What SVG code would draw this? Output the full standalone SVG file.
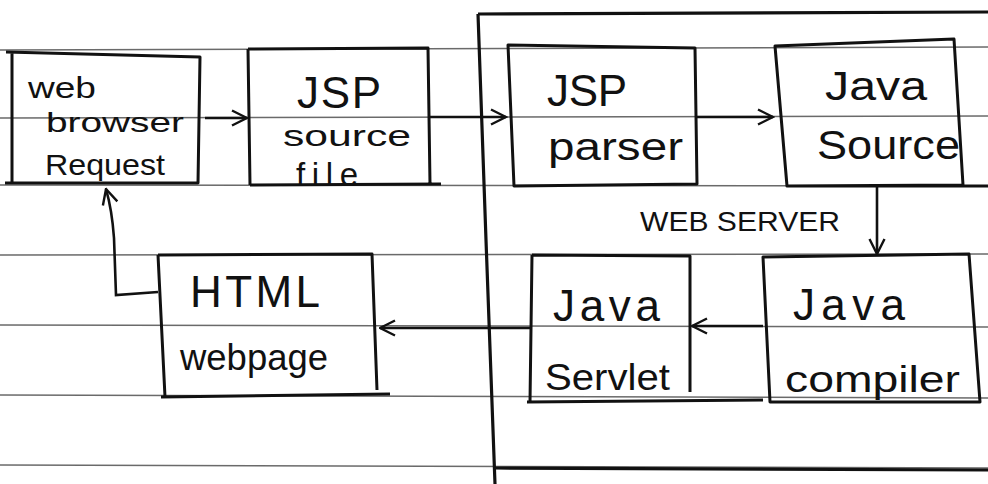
<svg xmlns="http://www.w3.org/2000/svg" width="988" height="484" viewBox="0 0 988 484">
<style>
.rule{stroke:#6a6a6a;stroke-width:1.6;fill:none}
.box{stroke:#111;stroke-width:3;fill:none;stroke-linejoin:round}
.frame{stroke:#111;stroke-width:3.2;fill:none}
.con{stroke:#111;stroke-width:2.6;fill:none}
.lbl{font-family:"Liberation Sans","DejaVu Sans",sans-serif;fill:#111}
</style>
<defs>
<marker id="ah" viewBox="0 0 12 12" refX="11" refY="6" markerWidth="18" markerHeight="18" markerUnits="userSpaceOnUse" orient="auto">
<path d="M1,1 L11,6 L1,11" fill="none" stroke="#111" stroke-width="1.6"/>
</marker>
</defs>
<rect width="988" height="484" fill="#fff"/>
<g id="paper">
<line class="rule" x1="0" y1="50" x2="988" y2="47"/>
<line class="rule" x1="0" y1="118" x2="988" y2="116"/>
<line class="rule" x1="0" y1="185" x2="988" y2="186"/>
<line class="rule" x1="0" y1="255" x2="988" y2="254"/>
<line class="rule" x1="0" y1="325" x2="988" y2="327"/>
<line class="rule" x1="0" y1="395" x2="988" y2="398"/>
<line class="rule" x1="0" y1="465" x2="988" y2="468"/>
</g>
<g id="web-server">
<path class="frame" d="M478,14 L988,12"/>
<path class="frame" d="M478,14 L486,240 L495,484"/>
<path class="frame" d="M495,468 L988,470"/>
<text class="lbl" x="640" y="231" font-size="28" textLength="200" lengthAdjust="spacingAndGlyphs">WEB SERVER</text>
</g>
<g id="browser">
<path class="box" d="M6,52 L200,57 L198,183 L5,183 M12,52 L12,183"/>
<text class="lbl" x="28" y="98" font-size="30" textLength="68" lengthAdjust="spacingAndGlyphs">web</text>
<text class="lbl" x="46" y="132" font-size="28" textLength="138" lengthAdjust="spacingAndGlyphs">browser</text>
<text class="lbl" x="45" y="175" font-size="30" textLength="120" lengthAdjust="spacingAndGlyphs">Request</text>
</g>
<g id="jsp-source">
<path class="box" d="M248,49 L428,48 L430,184 M250,185 L441,184 M248,49 L250,185"/>
<text class="lbl" x="297" y="108" font-size="44" textLength="84" lengthAdjust="spacing">JSP</text>
<text class="lbl" x="283" y="146" font-size="29" textLength="128" lengthAdjust="spacingAndGlyphs">source</text>
<text class="lbl" x="296" y="186" font-size="33" textLength="62" lengthAdjust="spacing">file</text>
</g>
<g id="jsp-parser">
<path class="box" d="M508,45 L695,48 L697,184 L514,186 Z"/>
<text class="lbl" x="547" y="106" font-size="44" textLength="80" lengthAdjust="spacing">JSP</text>
<text class="lbl" x="548" y="160" font-size="38" textLength="135" lengthAdjust="spacingAndGlyphs">parser</text>
</g>
<g id="java-source">
<path class="box" d="M775,46 L954,39 L963,185 L787,186 Z M787,186 L988,186"/>
<text class="lbl" x="825" y="100" font-size="40" textLength="102" lengthAdjust="spacingAndGlyphs">Java</text>
<text class="lbl" x="817" y="159" font-size="40" textLength="143" lengthAdjust="spacingAndGlyphs">Source</text>
</g>
<g id="html-webpage">
<path class="box" d="M158,255 L372,254 L377,390 M161,397 L390,394 M158,255 L165,397"/>
<text class="lbl" x="190" y="307" font-size="44" textLength="130" lengthAdjust="spacing">HTML</text>
<text class="lbl" x="180" y="370" font-size="36" textLength="148" lengthAdjust="spacingAndGlyphs">webpage</text>
</g>
<g id="java-servlet">
<path class="box" d="M532,255 L690,256 L690,392 M527,402 L763,400 M532,255 L530,402"/>
<text class="lbl" x="553" y="321" font-size="44" textLength="107" lengthAdjust="spacing">Java</text>
<text class="lbl" x="545" y="390" font-size="36" textLength="125" lengthAdjust="spacingAndGlyphs">Servlet</text>
</g>
<g id="java-compiler">
<path class="box" d="M763,257 L969,254 L980,402 L770,402 Z M763,257 L770,402"/>
<text class="lbl" x="793" y="320" font-size="44" textLength="112" lengthAdjust="spacing">Java</text>
<text class="lbl" x="785" y="392" font-size="36" textLength="175" lengthAdjust="spacingAndGlyphs">compiler</text>
</g>
<g id="connectors">
<path class="con" marker-end="url(#ah)" d="M205,118 L247,118"/>
<path class="con" marker-end="url(#ah)" d="M430,117 L506,117"/>
<path class="con" marker-end="url(#ah)" d="M697,117 L773,117"/>
<path class="con" marker-end="url(#ah)" d="M877,187 L877,254"/>
<path class="con" marker-end="url(#ah)" d="M763,326 L692,326"/>
<path class="con" marker-end="url(#ah)" d="M532,328 L380,328"/>
<path class="con" marker-end="url(#ah)" d="M158,292 L116,295 L114,238 Q112,210 106,189"/>
</g>
</svg>
